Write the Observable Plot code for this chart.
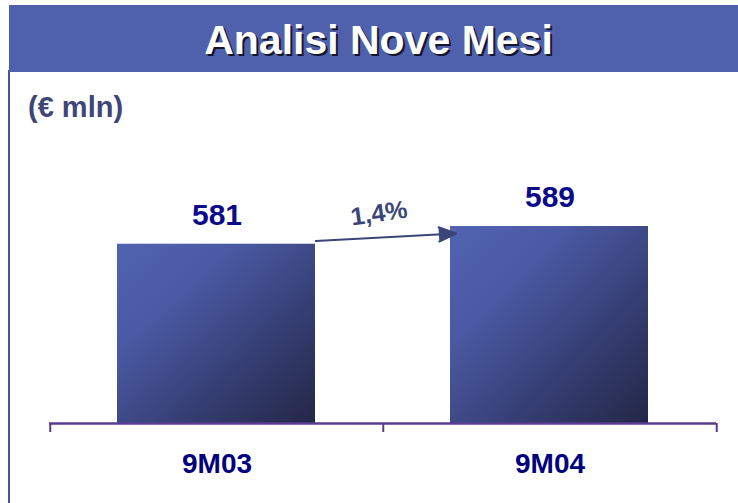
<!DOCTYPE html>
<html>
<head>
<meta charset="utf-8">
<script src="https://cdn.jsdelivr.net/npm/d3@7"></script>
<script src="https://cdn.jsdelivr.net/npm/@observablehq/plot@0.6"></script>
<style>
  body { margin: 0; background: #fff; font-family: "Liberation Sans", Arial, sans-serif; }
  #wrap { position: relative; width: 738px; height: 503px; overflow: hidden; background: #fff; }
  #chart { position: absolute; left: 0; top: 0; }
  #banner { position: absolute; left: 9px; top: 5px; width: 729px; height: 67px; background: #4F60AD;
            color: #fff; font-weight: bold; font-size: 41px; text-align: center; line-height: 70px;
            padding-left: 10px; box-sizing: border-box;
            text-shadow: 2px 2px 0 #15152a; }
  #leftline { position: absolute; left: 8px; top: 70px; width: 2px; height: 433px; background: #4A52A0; }
  #unit { position: absolute; left: 28px; top: 90px; font-size: 29px; font-weight: bold; color: #3D4677; line-height: 34px; }
</style>
</head>
<body>
<div id="wrap">
  <div id="chart"></div>
  <div id="leftline"></div>
  <div id="banner">Analisi Nove Mesi</div>
  <div id="unit">(€ mln)</div>
</div>
<script>
const periods = ["9M03", "9M04"];
const values = [581, 589];
const growthLabel = "1,4%";
const yBase = 500;
const yTop = 650;

const data = periods.map((p, i) => ({ period: p, value: values[i] }));
const growth = [{ from: periods[0], to: periods[1], v1: values[0], v2: values[1], label: growthLabel }];

const plot = Plot.plot({
  width: 738,
  height: 503,
  marginLeft: 49,
  marginRight: 22,
  marginTop: 91,
  marginBottom: 80,
  style: { fontFamily: "'Liberation Sans', Arial, sans-serif", background: "transparent" },
  x: { domain: periods, padding: 0, axis: null },
  y: { domain: [yBase, yTop], axis: null },
  marks: [
    Plot.barY(data, { x: "period", y1: yBase, y2: "value", insetLeft: 67, insetRight: 68, fill: "url(#barGrad)" }),
    Plot.ruleY([yBase], { stroke: "#5A3D92", strokeWidth: 2.5 }),
    Plot.ruleX(periods, { x: d => d, y1: yBase, y2: yBase, dx: -166.75, insetBottom: -9, stroke: "#5A3D92", strokeWidth: 2 }),
    Plot.ruleX(periods.slice(-1), { x: d => d, y1: yBase, y2: yBase, dx: 166.75, insetBottom: -9, stroke: "#5A3D92", strokeWidth: 2 }),
    Plot.axisX({ tickSize: 0, tickPadding: 30, fontSize: 28, fontWeight: "bold", fill: "#00007F" }),
    Plot.text(data, { x: "period", y: "value", text: d => String(d.value), dy: -29, fontSize: 30, fontWeight: "bold", fill: "#0B0B8A" }),
    Plot.arrow(growth, { x1: "from", y1: "v1", x2: "to", y2: "v2", insetStart: 99, insetEnd: 94,
      stroke: "#3A4677", fill: "#3A4677", strokeWidth: 2, headLength: 14, headAngle: 45, dy: 2 }),
    Plot.text(growth, { x: "from", y: "v2", text: "label", dx: 162, dy: -13, rotate: -8, fontSize: 25, fontWeight: "bold", fill: "#3A4677" })
  ]
});

// gradient definition for the bars
const ns = "http://www.w3.org/2000/svg";
const defs = document.createElementNS(ns, "defs");
const grad = document.createElementNS(ns, "linearGradient");
grad.setAttribute("id", "barGrad");
grad.setAttribute("x1", "0"); grad.setAttribute("y1", "0");
grad.setAttribute("x2", "1"); grad.setAttribute("y2", "1");
[["0", "#5163B1"], ["0.3", "#4A59A3"], ["0.65", "#363F74"], ["1", "#232746"]].forEach(([o, c]) => {
  const s = document.createElementNS(ns, "stop");
  s.setAttribute("offset", o); s.setAttribute("stop-color", c);
  grad.appendChild(s);
});
defs.appendChild(grad);
plot.insertBefore(defs, plot.firstChild);

document.getElementById("chart").appendChild(plot);
</script>
</body>
</html>
